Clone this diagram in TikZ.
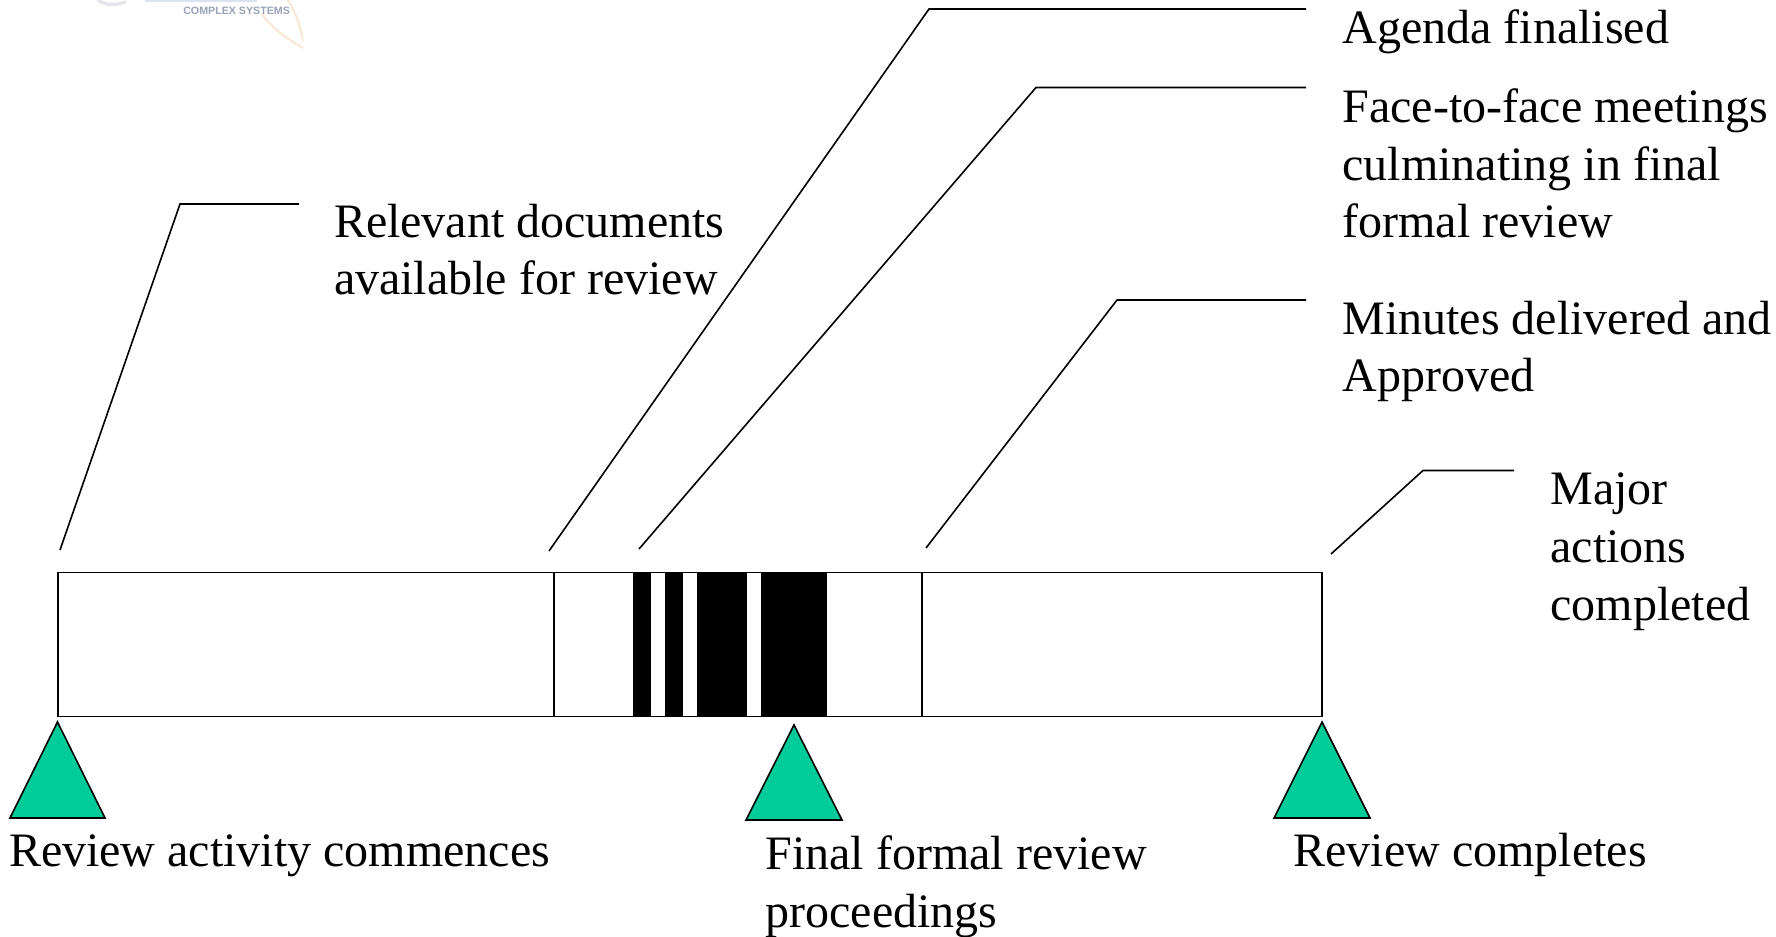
\documentclass[tikz,border=0pt]{standalone}
\usepackage{fontspec}
\setmainfont{Liberation Serif}
\newfontfamily\logofont{Liberation Sans}
\definecolor{tri}{HTML}{00CC99}
\definecolor{logoink}{HTML}{9AA2B8}
\definecolor{logoorange}{HTML}{FBE6D4}
\definecolor{logogrey}{HTML}{E6E6EA}
\definecolor{logoblue}{HTML}{DDE2F0}
\tikzset{
  x=0.75pt,y=-0.75pt,
  lbl/.style={anchor=base west,inner sep=0pt,outer sep=0pt,font=\fontsize{36pt}{43.2pt}\selectfont,align=left},
  leader/.style={draw=black,line width=1.2pt,line join=miter},
  barbox/.style={draw=black,line width=1.2pt},
  solid bar/.style={fill=black,draw=none,minimum height=108pt,inner sep=0pt},
  marker/.style={draw=black,line width=1.2pt,fill=tri,line join=miter},
}
\begin{document}
\begin{tikzpicture}
\useasboundingbox (0,0) rectangle (1776,937);
% logo remains
\begin{scope}
\clip (0,0) rectangle (303,50);
\draw[line width=1.5pt,color=logoorange,line cap=round] (288,0) .. controls (296,14) and (301,26) .. (303,42);
\draw[line width=1.5pt,color=logoorange,line cap=round] (262,14) .. controls (272,28) and (286,38) .. (303,48);
\draw[line width=2.5pt,color=logogrey,line cap=round] (98,0) .. controls (104,5) and (115,6) .. (125,2);
\fill[logoblue] (145,0) rectangle (257,2);
\end{scope}
\node[inner sep=0pt,anchor=base west,text=logoink,font=\logofont\bfseries\fontsize{8pt}{9pt}\selectfont] (logotext) at (183,15) {COMPLEX SYSTEMS};
% time bar
\node[solid bar,minimum width=13.5pt] (b1) at (642,644.5) {};
\node[solid bar,minimum width=13.5pt] (b2) at (674,644.5) {};
\node[solid bar,minimum width=37.5pt] (b3) at (722,644.5) {};
\node[solid bar,minimum width=49.5pt] (b4) at (794,644.5) {};
\node[barbox,minimum width=948pt,minimum height=108pt,inner sep=0pt,outer sep=0pt] (bar) at (690,644.5) {};
\draw[barbox] (554,0 |- bar.north) -- (554,0 |- bar.south);
\draw[barbox] (922,0 |- bar.north) -- (922,0 |- bar.south);
% leaders
\coordinate (a1) at (60,550); \coordinate (a2) at (180,204); \coordinate (a3) at (299,204);
\draw[leader] (a1) -- (a2) -- (a3);
\coordinate (c1) at (549,551); \coordinate (c2) at (929,9); \coordinate (c3) at (1306,9);
\draw[leader] (c1) -- (c2) -- (c3);
\coordinate (d1) at (639,549); \coordinate (d2) at (1036,87.5); \coordinate (d3) at (1306,87.5);
\draw[leader] (d1) -- (d2) -- (d3);
\coordinate (e1) at (926,548); \coordinate (e2) at (1117,300); \coordinate (e3) at (1306,300);
\draw[leader] (e1) -- (e2) -- (e3);
\coordinate (f1) at (1331,554); \coordinate (f2) at (1423,470.5); \coordinate (f3) at (1514,470.5);
\draw[leader] (f1) -- (f2) -- (f3);
% triangles
\draw[marker] (57.5,722) -- (105,818) -- (10,818) -- cycle;
\draw[marker] (794,725) -- (842,820) -- (746,820) -- cycle;
\draw[marker] (1322,722) -- (1370,818) -- (1274,818) -- cycle;
% labels (a multi-line node's base is its last line)
\node[lbl] (t1) at (334,295) {Relevant documents\\available for review};
\node[lbl] (t2) at (1342.5,44) {Agenda finalised};
\node[lbl] (t3) at (1342.5,238) {Face-to-face meetings\\culminating in final\\formal review};
\node[lbl] (t4) at (1342.5,392) {Minutes delivered and\\Approved};
\node[lbl] (t5) at (1550.5,620) {Major\\actions\\completed};
\node[lbl] (t6) at (9,866) {Review activity commences};
\node[lbl] (t7) at (765.5,927) {Final formal review\\proceedings};
\node[lbl] (t8) at (1293.5,866) {Review completes};
\end{tikzpicture}
\end{document}
